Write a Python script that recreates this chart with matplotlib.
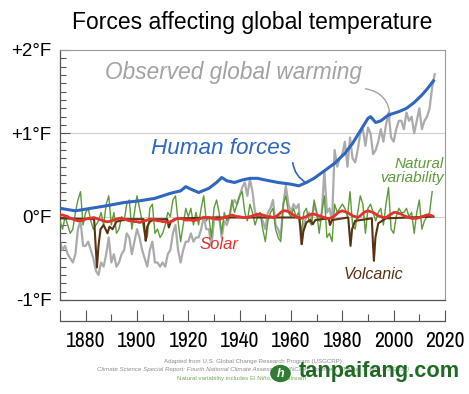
import numpy as np
import matplotlib
matplotlib.use("Agg")
import matplotlib.pyplot as plt
from matplotlib.patches import Circle
from matplotlib import font_manager

plt.rcParams['font.family'] = ['Liberation Sans', 'DejaVu Sans']

# observed global warming, yearly (deg F)
obs_start = 1870
observed = [
    -0.30, -0.40, -0.35, -0.45, -0.50, -0.55, -0.45, -0.15, -0.05, -0.35,
    -0.35, -0.30, -0.40, -0.50, -0.65, -0.70, -0.55, -0.60, -0.45, -0.25,
    -0.55, -0.45, -0.60, -0.55, -0.45, -0.40, -0.20, -0.25, -0.45, -0.30,
    -0.15, -0.25, -0.40, -0.50, -0.60, -0.40, -0.30, -0.55, -0.55, -0.60,
    -0.55, -0.60, -0.45, -0.40, -0.20, -0.10, -0.40, -0.55, -0.40, -0.30,
    -0.30, -0.20, -0.30, -0.25, -0.25, -0.15, 0.00, -0.15, -0.15, -0.35,
    -0.05, 0.00, 0.00, -0.25, -0.05, -0.10, 0.00, 0.15, 0.20, 0.15,
    0.25, 0.35, 0.41, 0.25, 0.45, 0.30, 0.05, 0.00, 0.00, -0.05,
    -0.15, 0.05, 0.10, 0.20, -0.10, -0.15, -0.25, 0.15, 0.37, 0.15,
    0.05, 0.15, 0.10, 0.15, -0.33, -0.10, 0.00, 0.05, -0.05, 0.15,
    0.05, -0.05, 0.05, 0.55, 0.05, 0.10, -0.05, 0.80, 0.60, 0.70,
    0.75, 0.90, 0.60, 0.95, 0.70, 0.65, 0.80, 1.00, 1.05, 0.85,
    1.07, 1.00, 0.75, 0.80, 0.90, 1.05, 0.90, 1.10, 1.25, 0.95,
    0.90, 1.05, 1.15, 1.15, 1.05, 1.25, 1.15, 1.20, 1.00, 1.15,
    1.30, 1.05, 1.15, 1.20, 1.30, 1.55, 1.71,
]

# natural variability, yearly
natural = [
    -0.05, -0.15, 0.00, -0.10, -0.20, -0.15, 0.05, 0.20, 0.30, -0.10,
    0.05, 0.10, -0.05, -0.15, -0.10, -0.05, 0.05, -0.10, 0.15, 0.25,
    -0.10, 0.05, -0.20, -0.15, 0.00, -0.05, 0.15, 0.20, -0.15, 0.05,
    0.25, 0.10, -0.05, -0.20, -0.25, 0.10, 0.15, -0.20, -0.15, -0.25,
    -0.20, -0.10, 0.05, 0.00, 0.20, 0.25, -0.05, -0.30, -0.10, 0.10,
    0.00, 0.10, -0.10, 0.05, -0.10, 0.10, 0.25, -0.05, 0.00, -0.25,
    0.10, 0.20, 0.05, -0.20, 0.05, -0.05, 0.00, 0.20, 0.05, 0.15,
    0.25, 0.30, 0.05, -0.05, 0.15, 0.05, -0.10, 0.00, 0.05, -0.15,
    -0.30, -0.05, 0.05, 0.10, -0.15, -0.25, -0.30, 0.15, 0.25, 0.05,
    0.00, 0.10, 0.00, 0.05, -0.20, 0.05, 0.10, -0.05, -0.10, 0.20,
    0.05, -0.20, 0.05, 0.25, -0.25, -0.20, -0.30, 0.15, 0.05, 0.10,
    0.15, 0.10, 0.00, 0.30, -0.10, -0.15, 0.05, 0.25, 0.15, -0.20,
    0.10, 0.15, 0.05, -0.05, 0.05, 0.10, -0.10, 0.15, 0.35, -0.15,
    -0.20, 0.00, 0.10, 0.05, 0.05, 0.10, 0.00, 0.05, -0.20, 0.05,
    0.20, -0.15, -0.05, 0.00, 0.05, 0.30,
]

# solar, yearly
solar = [
    0.02, 0.02, 0.01, 0.00, -0.02, -0.03, -0.04, -0.05, -0.05, -0.04,
    -0.03, -0.02, -0.02, -0.01, -0.02, -0.03, -0.04, -0.05, -0.06, -0.06,
    -0.05, -0.04, -0.03, -0.02, -0.02, -0.03, -0.04, -0.05, -0.05, -0.06,
    -0.06, -0.07, -0.06, -0.05, -0.04, -0.03, -0.03, -0.04, -0.05, -0.05,
    -0.06, -0.06, -0.07, -0.06, -0.05, -0.03, -0.02, -0.02, -0.03, -0.04,
    -0.04, -0.04, -0.05, -0.04, -0.03, -0.02, -0.01, -0.01, -0.01, -0.02,
    -0.02, -0.03, -0.03, -0.02, -0.01, 0.00, 0.01, 0.02, 0.01, 0.00,
    0.00, -0.01, -0.01, -0.01, 0.00, 0.01, 0.02, 0.03, 0.03, 0.02,
    0.01, 0.00, 0.00, -0.01, 0.00, 0.02, 0.05, 0.07, 0.07, 0.06,
    0.04, 0.02, 0.00, -0.01, -0.02, -0.01, 0.00, 0.02, 0.03, 0.03,
    0.02, 0.01, 0.00, -0.01, -0.02, -0.02, -0.01, 0.01, 0.04, 0.06,
    0.07, 0.06, 0.05, 0.03, 0.01, 0.00, -0.01, 0.01, 0.04, 0.06,
    0.07, 0.06, 0.05, 0.03, 0.01, 0.00, -0.01, -0.01, 0.01, 0.03,
    0.05, 0.05, 0.04, 0.03, 0.01, 0.00, -0.01, -0.02, -0.02, -0.02,
    -0.01, 0.00, 0.01, 0.02, 0.02, 0.01,
]

# volcanic, read at uneven years around the eruptions
volc_years = [1870, 1883.3, 1883.8, 1884.4, 1885.0, 1885.8, 1887, 1888.5, 1889.3,
              1890.5, 1892, 1896, 1902.6, 1903.0, 1903.4, 1904.0, 1905, 1907,
              1911.8, 1912.4, 1913.2, 1914.5, 1918, 1930, 1963.2, 1963.7, 1964.2,
              1964.8, 1966, 1967.5, 1968.5, 1969.5, 1974.7, 1975.2, 1976, 1982.3,
              1982.8, 1983.2, 1983.8, 1985, 1991.5, 1991.9, 1992.3, 1992.9, 1994,
              1997, 2015.5]
volc_vals = [-0.02, -0.03, -0.30, -0.61, -0.35, -0.15, -0.10, -0.20, -0.12,
             -0.15, -0.06, -0.03, -0.03, -0.18, -0.29, -0.12, -0.06, -0.03,
             -0.03, -0.13, -0.06, -0.03, -0.02, -0.01, -0.01, -0.15, -0.33,
             -0.18, -0.07, -0.04, -0.09, -0.04, -0.02, -0.10, -0.04, -0.01,
             -0.20, -0.35, -0.15, -0.05, -0.02, -0.30, -0.53, -0.25, -0.08,
             -0.02, 0.00]

# human forces
hum_years = [1870, 1876, 1882, 1888, 1895, 1901, 1907, 1913, 1917, 1919, 1921,
             1924, 1928, 1931, 1933, 1935, 1938, 1941, 1944, 1947, 1950, 1955,
             1960, 1963, 1966, 1969, 1973, 1977, 1981, 1984, 1987, 1990, 1991,
             1993, 1995, 1998, 2002, 2005, 2008, 2011, 2013, 2015.5]
hum_vals = [0.10, 0.07, 0.10, 0.13, 0.17, 0.19, 0.22, 0.28, 0.31, 0.36, 0.33,
            0.29, 0.34, 0.41, 0.47, 0.43, 0.41, 0.44, 0.46, 0.46, 0.44, 0.41,
            0.39, 0.37, 0.41, 0.46, 0.55, 0.64, 0.76, 0.88, 1.03, 1.18, 1.20,
            1.13, 1.15, 1.22, 1.26, 1.30, 1.37, 1.46, 1.53, 1.63]

ytick_vals = [-1, 0, 1, 2]
ytick_labels = ['-1°F', '0°F', '+1°F', '+2°F']
xtick_vals = [1870, 1880, 1900, 1920, 1940, 1960, 1980, 2000, 2020]
xtick_labels = ['', '1880', '1900', '1920', '1940', '1960', '1980', '2000', '2020']

# the year labels use a narrow face; pick one if the system has it
narrow = None
for f in font_manager.fontManager.ttflist:
    if ('Narrow' in f.name or 'Condensed' in f.name) and f.style == 'normal':
        narrow = f.name
        break
if narrow is None:
    for f in font_manager.fontManager.ttflist:
        if f.stretch in ('condensed', 'semi-condensed', 'extra-condensed') and f.style == 'normal':
            narrow = f
            break

fig = plt.figure(figsize=(4.69, 3.94), dpi=100)
ax = fig.add_axes([0.1279, 0.2386, 0.8209, 0.6345])

obs_years = np.arange(obs_start, obs_start + len(observed))
nat_years = np.arange(obs_start, obs_start + len(natural))
sol_years = np.arange(obs_start, obs_start + len(solar))

ax.axhline(1, color='#d0d0d0', lw=0.8, zorder=1)
ax.axhline(0, color='#d0d0d0', lw=0.8, zorder=1)

ax.plot(obs_years, observed, color='#ababab', lw=1.6, zorder=2)
ax.plot(nat_years, natural, color='#5e9a3a', lw=1.0, zorder=3)
ax.plot(volc_years, volc_vals, color='#5a3212', lw=1.5, zorder=4)
ax.plot(sol_years, solar, color='#e4322b', lw=2.0, zorder=5)
ax.plot(hum_years, hum_vals, color='#2f66c2', lw=2.2, zorder=6)

ax.set_xlim(1870, 2020)
ax.set_ylim(-1, 2)
ax.set_xticks([])
ax.set_yticks(ytick_vals)
ax.set_yticklabels(ytick_labels, fontsize=13.5)
ax.yaxis.set_minor_locator(matplotlib.ticker.MultipleLocator(0.1))
ax.tick_params(axis='y', which='major', direction='in', length=7, width=0.8,
               color='#555555', pad=6)
ax.tick_params(axis='y', which='minor', direction='in', length=4, width=0.8,
               color='#555555')
for s in ['top', 'right']:
    ax.spines[s].set_color('#9a9a9a')
    ax.spines[s].set_linewidth(0.8)
ax.spines['left'].set_color('#555555')
ax.spines['bottom'].set_color('#555555')
ax.spines['left'].set_linewidth(0.9)
ax.spines['bottom'].set_linewidth(0.9)

# labels on the chart
ax.text(1887.5, 1.73, 'Observed global warming', color='#a3a3a3', style='italic',
        fontsize=16.3, va='center', ha='left')
ax.annotate('', xy=(1998.6, 1.16), xytext=(1988, 1.54),
            arrowprops=dict(arrowstyle='-', color='#a3a3a3', lw=1.0,
                            connectionstyle='arc3,rad=-0.45'))
ax.text(1905.5, 0.82, 'Human forces', color='#2f66c2', style='italic',
        fontsize=16.2, va='center', ha='left')
ax.annotate('', xy=(1967, 0.39), xytext=(1960.6, 0.68),
            arrowprops=dict(arrowstyle='-', color='#2f66c2', lw=1.2,
                            connectionstyle='arc3,rad=0.3'))
ax.text(2019.5, 0.55, 'Natural\nvariability', color='#5e9a3a', style='italic',
        fontsize=11, va='center', ha='right', linespacing=1.0)
ax.text(1924.5, -0.33, 'Solar', color='#e4322b', style='italic', fontsize=12,
        va='center', ha='left')
ax.text(1992.3, -0.69, 'Volcanic', color='#5a3212', style='italic', fontsize=11.5,
        va='center', ha='center')

# separate year axis below the frame
ax2 = fig.add_axes([0.1279, 0.1853, 0.8209, 0.03])
ax2.set_xlim(1870, 2020)
ax2.set_ylim(0, 1)
ax2.set_yticks([])
ax2.patch.set_visible(False)
for s in ['top', 'right', 'left']:
    ax2.spines[s].set_visible(False)
ax2.spines['bottom'].set_color('#555555')
ax2.spines['bottom'].set_linewidth(0.9)
ax2.set_xticks(xtick_vals)
if isinstance(narrow, str):
    ax2.set_xticklabels(xtick_labels, fontsize=15.5, family=[narrow, 'Liberation Sans'])
elif narrow is not None:
    ax2.set_xticklabels(xtick_labels,
                        fontproperties=font_manager.FontProperties(fname=narrow.fname, size=14))
else:
    ax2.set_xticklabels(xtick_labels, fontsize=12.5)
ax2.set_xticks(np.arange(1890, 2020, 20), minor=True)
ax2.tick_params(axis='x', which='major', direction='in', length=8, width=0.8,
                color='#555555', pad=7)
ax2.tick_params(axis='x', which='minor', direction='in', length=5, width=0.8,
                color='#555555')

fig.text(0.537, 0.944, 'Forces affecting global temperature', fontsize=16.5,
         ha='center', va='center')

fig.text(0.54, 0.083, 'Adapted from U.S. Global Change Research Program (USGCRP)',
         fontsize=4.4, color='#8a8a8a', ha='center', va='center')
fig.text(0.54, 0.063, 'Climate Science Special Report: Fourth National Climate Assessment (NCA4), Volume I, Chapter 3, Fig. 3.3 (2017)',
         fontsize=4.4, color='#8a8a8a', style='italic', ha='center', va='center')
fig.text(0.377, 0.040, 'Natural variability includes El Niño, Gulf Stream',
         fontsize=4.4, color='#7aa85a', ha='left', va='center')

# watermark
fig.patches.append(Circle((0.598, 0.052), 0.022, transform=fig.transFigure,
                          facecolor='#2e7d32', edgecolor='none', zorder=10))
fig.text(0.598, 0.052, 'h', fontsize=9, color='white', weight='bold', style='italic',
         ha='center', va='center', zorder=11)
fig.text(0.637, 0.056, 'tanpaifang.com', fontsize=15.7, color='#1f6b24',
         weight='bold', ha='left', va='center', zorder=11)

fig.savefig('out.png', dpi=100)
